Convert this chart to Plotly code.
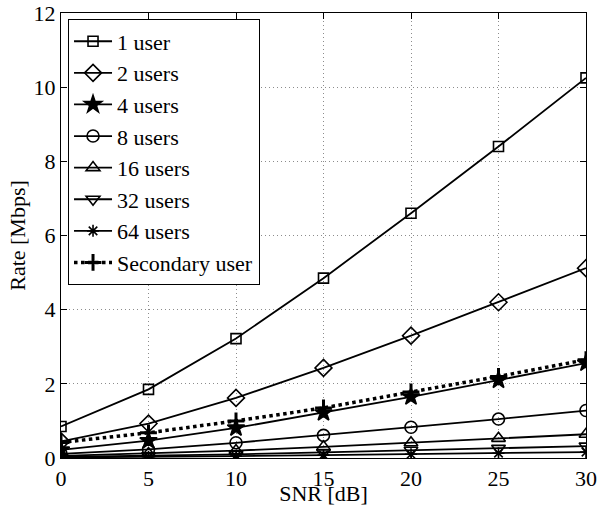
import plotly.graph_objects as go

snr = [0, 5, 10, 15, 20, 25, 30]
names = ["1 user", "2 users", "4 users", "8 users", "16 users", "32 users", "64 users", "Secondary user"]
rate_1 = [0.85, 1.85, 3.22, 4.85, 6.6, 8.4, 10.25]
rate_2 = [0.45, 0.93, 1.62, 2.43, 3.3, 4.2, 5.12]
rate_4 = [0.22, 0.47, 0.81, 1.22, 1.65, 2.1, 2.56]
rate_8 = [0.11, 0.23, 0.41, 0.61, 0.83, 1.05, 1.28]
rate_16 = [0.055, 0.12, 0.2, 0.3, 0.41, 0.53, 0.64]
rate_32 = [0.03, 0.06, 0.1, 0.15, 0.21, 0.26, 0.32]
rate_64 = [0.015, 0.03, 0.05, 0.08, 0.1, 0.13, 0.16]
rate_sec = [0.42, 0.68, 1.0, 1.35, 1.78, 2.2, 2.65]

series = [rate_1, rate_2, rate_4, rate_8, rate_16, rate_32, rate_64, rate_sec]
symbols = ["square-open", "diamond-open", "star", "circle-open", "triangle-up-open",
           "triangle-down-open", "asterisk-open", "cross-thin-open"]
sizes = [10, 13, 13, 12, 12, 12, 10, 12]

FONT = "Liberation Serif, Times New Roman, Times, serif"

fig = go.Figure()
for name, ys, sym, sz in zip(names, series, symbols, sizes):
    sec = name == "Secondary user"
    fig.add_trace(go.Scatter(
        x=snr, y=ys, name=name, mode="lines+markers",
        line=dict(color="black", width=3.5 if sec else 1.8, dash="dot" if sec else "solid"),
        marker=dict(symbol=sym, size=sz, color="black",
                    line=dict(color="black", width=3 if sec else 1.6)),
    ))

axis_common = dict(
    showline=True, linecolor="black", linewidth=1.2, mirror="ticks",
    ticks="inside", ticklen=6, tickcolor="black",
    showgrid=True, gridcolor="#8c8c8c", griddash="1px,3px", gridwidth=1,
    zeroline=False, automargin=False, ticklabeloverflow="allow",
    tickfont=dict(size=22, color="black", family=FONT),
)
fig.update_xaxes(range=[0, 30], dtick=5, title=dict(text="SNR [dB]", standoff=4,
                 font=dict(size=22, family=FONT, color="black")), **axis_common)
fig.update_yaxes(range=[0, 12], dtick=2, title=dict(text="Rate [Mbps]", standoff=1,
                 font=dict(size=22, family=FONT, color="black")), **axis_common)

fig.update_layout(
    width=598, height=506,
    margin=dict(l=61, r=12, t=13, b=48),
    plot_bgcolor="white", paper_bgcolor="white",
    font=dict(family=FONT, size=22, color="black"),
    legend=dict(x=0.013, y=0.986, xanchor="left", yanchor="top",
                bgcolor="white", bordercolor="black", borderwidth=1.2,
                font=dict(size=22, family=FONT, color="black"),
                tracegroupgap=0, itemwidth=38),
)

fig.write_html("out.html", config={"displayModeBar": False},
               post_script="document.body.style.margin='0';")
